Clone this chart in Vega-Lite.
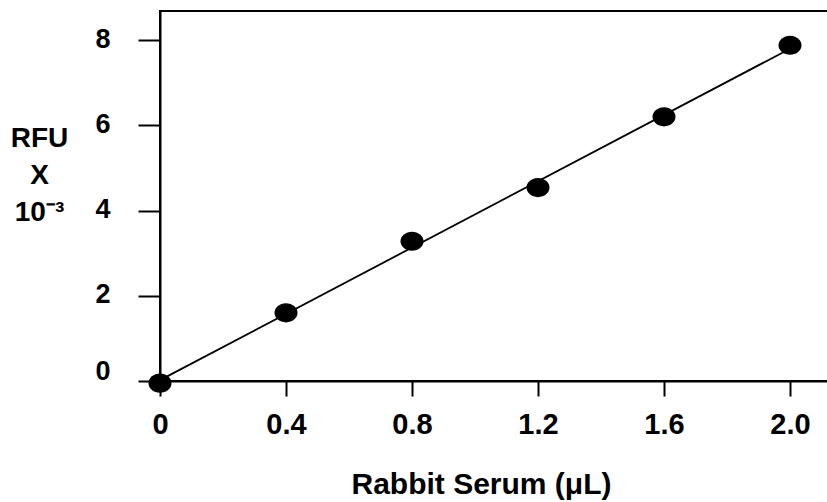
{
  "$schema": "https://vega.github.io/schema/vega-lite/v6.json",
  "width": 668,
  "height": 370,
  "autosize": {"type": "none"},
  "padding": {"left": 160, "top": 11, "right": 0, "bottom": 121},
  "background": "white",
  "config": {"view": {"stroke": "black", "strokeWidth": 2}, "font": "Liberation Sans"},
  "datasets": {
    "points": [
      {"serum": 0.0, "rfu": -0.05},
      {"serum": 0.4, "rfu": 1.60},
      {"serum": 0.8, "rfu": 3.28},
      {"serum": 1.2, "rfu": 4.54},
      {"serum": 1.6, "rfu": 6.20},
      {"serum": 2.0, "rfu": 7.88}
    ],
    "fit": [
      {"serum": 0.0, "rfu": 0.02},
      {"serum": 2.0, "rfu": 7.80}
    ]
  },
  "encoding": {
    "x": {
      "field": "serum", "type": "quantitative",
      "scale": {"domain": [0, 2.1206], "nice": false, "zero": false},
      "axis": {
        "values": [0, 0.4, 0.8, 1.2, 1.6, 2.0],
        "labelExpr": "datum.value == 0 ? '0' : format(datum.value, '.1f')",
        "title": "Rabbit Serum (μL)",
        "titleFontSize": 30,
        "titleFontWeight": "bold",
        "titleColor": "black",
        "titleX": 321,
        "titleY": 112,
        "titleBaseline": "alphabetic",
        "titleAlign": "center",
        "labelFontSize": 29,
        "labelFontWeight": "bold",
        "labelColor": "black",
        "labelPadding": 14,
        "labelFlush": false,
        "labelOverlap": false,
        "tickSize": 15,
        "tickWidth": 2,
        "tickColor": "black",
        "domainWidth": 2,
        "domainColor": "black",
        "grid": false
      }
    },
    "y": {
      "field": "rfu", "type": "quantitative",
      "scale": {"domain": [0, 8.685], "nice": false, "zero": false},
      "axis": {
        "values": [0, 2, 4, 6, 8],
        "title": ["RFU", "X", "10⁻³"],
        "titleAngle": 0,
        "titleX": -121,
        "titleY": 113,
        "titleBaseline": "top",
        "titleAlign": "center",
        "titleFontSize": 28,
        "titleFontWeight": "bold",
        "titleColor": "black",
        "titleLineHeight": 37,
        "labelFontSize": 27,
        "labelFontWeight": "bold",
        "labelColor": "black",
        "labelPadding": 28,
        "labelFlush": false,
        "labelOverlap": false,
        "labelOffset": {"condition": {"test": "datum.value == 0", "value": -10}, "value": -1},
        "tickSize": 22,
        "tickWidth": 2,
        "tickColor": "black",
        "domainWidth": 2,
        "domainColor": "black",
        "grid": false
      }
    }
  },
  "layer": [
    {
      "data": {"name": "fit"},
      "mark": {"type": "line", "color": "black", "strokeWidth": 1.8}
    },
    {
      "data": {"name": "points"},
      "mark": {"type": "point", "filled": true, "color": "black", "opacity": 1, "shape": "M-1,0A1,0.83 0 1,1 1,0A1,0.83 0 1,1 -1,0Z", "size": 529}
    }
  ]
}
